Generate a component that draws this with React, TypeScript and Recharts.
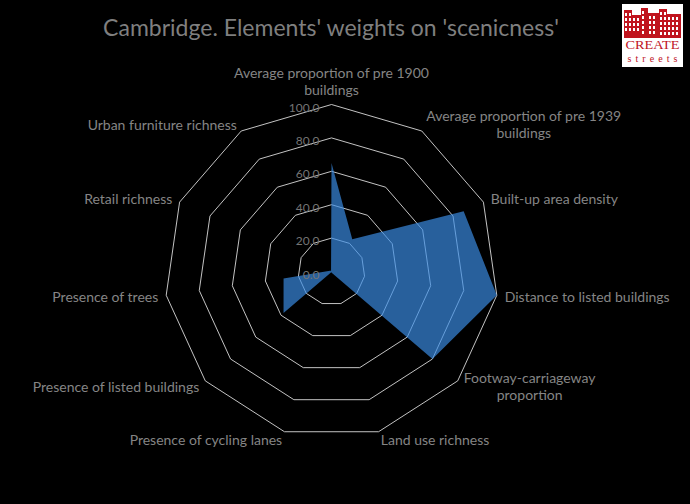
import React from "react";
import {
  RadarChart,
  Radar,
  PolarGrid,
  PolarAngleAxis,
  PolarRadiusAxis,
} from "recharts";

const categories = [
  "Average proportion of pre 1900\nbuildings",
  "Average proportion of pre 1939\nbuildings",
  "Built-up area density",
  "Distance to listed buildings",
  "Footway-carriageway\nproportion",
  "Land use richness",
  "Presence of cycling lanes",
  "Presence of listed buildings",
  "Presence of trees",
  "Retail richness",
  "Urban furniture richness",
];

const weights = [65, 23, 87, 100, 80, 1, 0.5, 38, 29, 1, 0.5];

const radiusTicks = [0, 20, 40, 60, 80, 100];

const data = categories.map((name, i) => ({ name, weight: weights[i] }));

const FONT = "Lato, 'Open Sans', sans-serif";
const LABEL_SIZE = 14;

let measureCtx: CanvasRenderingContext2D | null = null;
const textWidth = (s: string, size: number) => {
  if (!measureCtx) measureCtx = document.createElement("canvas").getContext("2d");
  if (!measureCtx) return s.length * size * 0.5;
  measureCtx.font = `${size}px Lato`;
  return measureCtx.measureText(s).width;
};

const AngleTick = (props: any) => {
  const { x, y, payload, textAnchor } = props;
  const lines: string[] = String(payload.value).split("\n");
  const common = { fill: "#858585", fontSize: LABEL_SIZE, fontFamily: FONT };

  if (lines.length === 1) {
    return (
      <text x={x} y={y + 5.5} textAnchor={textAnchor} {...common}>
        {lines[0]}
      </text>
    );
  }

  // two-line labels: lines centred within their block
  const w = Math.max(...lines.map((l) => textWidth(l, LABEL_SIZE)));
  let cx = x;
  if (textAnchor === "start") cx = x + w / 2;
  if (textAnchor === "end") cx = x - w / 2;
  const top = textAnchor === "middle" ? y - 19 : y - 3;

  return (
    <text textAnchor="middle" {...common}>
      {lines.map((l, i) => (
        <tspan key={i} x={cx} y={top + i * 17}>
          {l}
        </tspan>
      ))}
    </text>
  );
};

const RadiusTick = (props: any) => {
  const { x, y, payload } = props;
  return (
    <text
      x={x - 12}
      y={y + 7}
      textAnchor="end"
      fill="#747474"
      fontSize={12}
      fontFamily={FONT}
    >
      {Number(payload.value).toFixed(1)}
    </text>
  );
};

const Logo = () => {
  const red = "#c0141e";
  const blocks = [
    [2, 8, 6],
    [10, 9, 11],
    [19, 7, 4],
    [26, 11, 9],
    [37, 8, 5],
    [45, 14, 10],
  ];
  return (
    <svg
      width={61}
      height={63}
      style={{ position: "absolute", left: 622, top: 4 }}
    >
      <rect x={0} y={0} width={61} height={63} fill="#ffffff" />
      {blocks.map(([bx, bw, top], i) => (
        <g key={i}>
          <rect x={bx} y={top} width={bw} height={34 - top} fill={red} />
          {Array.from({ length: Math.floor((30 - top) / 5) }).map((_, r) =>
            Array.from({ length: Math.floor(bw / 4) }).map((_, c) => (
              <rect
                key={`${r}-${c}`}
                x={bx + 1 + c * 4}
                y={top + 3 + r * 5}
                width={2}
                height={3}
                fill="#ffffff"
              />
            ))
          )}
        </g>
      ))}
      <text
        x={30.5}
        y={45}
        textAnchor="middle"
        fill={red}
        fontSize={12}
        fontFamily="'Liberation Serif', 'DejaVu Serif', serif"
        textLength={54}
        lengthAdjust="spacingAndGlyphs"
      >
        CREATE
      </text>
      <text
        x={30.5}
        y={58}
        textAnchor="middle"
        fill={red}
        fontSize={10}
        fontFamily="'Liberation Serif', 'DejaVu Serif', serif"
        textLength={50}
      >
        streets
      </text>
    </svg>
  );
};

export default function App() {
  return (
    <div
      style={{
        position: "absolute",
        left: 0,
        top: 0,
        width: 690,
        height: 504,
        background: "#000000",
        overflow: "hidden",
      }}
    >
      <div
        style={{
          position: "absolute",
          left: 0,
          top: 12,
          width: 662,
          textAlign: "center",
          color: "#7f7f7f",
          fontSize: 23,
          fontFamily: FONT,
          lineHeight: "30px",
        }}
      >
        Cambridge. Elements' weights on 'scenicness'
      </div>
      <Logo />
      <div style={{ position: "absolute", left: 0, top: 0 }}>
        <RadarChart
          width={690}
          height={504}
          data={data}
          cx={331.5}
          cy={271.5}
          outerRadius={167}
          margin={{ top: 0, right: 0, bottom: 0, left: 0 }}
        >
          <PolarGrid
            gridType="polygon"
            radialLines={false}
            stroke="#d9d9d9"
            strokeWidth={0.9}
          />
          <PolarAngleAxis
            dataKey="name"
            tick={<AngleTick />}
            tickLine={false}
            axisLine={false}
          />
          <PolarRadiusAxis
            angle={90}
            domain={[0, 100]}
            ticks={radiusTicks as any}
            tickCount={6}
            tick={<RadiusTick />}
            axisLine={false}
            tickLine={false}
          />
          <Radar
            dataKey="weight"
            fill="#3b8ee6"
            fillOpacity={0.68}
            stroke="none"
            isAnimationActive={false}
          />
        </RadarChart>
      </div>
    </div>
  );
}
